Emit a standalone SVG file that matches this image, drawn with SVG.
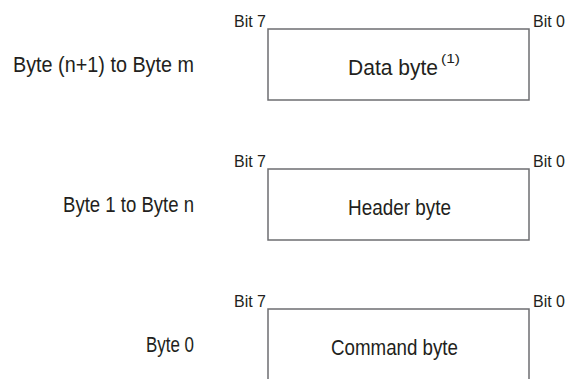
<svg xmlns="http://www.w3.org/2000/svg" width="569" height="379" viewBox="0 0 569 379">
<style>
text{font-family:"Liberation Sans",Arial,sans-serif;fill:#231f20}
.lbl{font-size:22px}
.bit{font-size:17px}
.sup{font-size:13px}
.box{fill:none;stroke:#6d6e71;stroke-width:1.5}
</style>
<rect width="569" height="379" fill="#fff"/>
<g id="row-data">
<text class="lbl" x="13" y="72" textLength="181" lengthAdjust="spacingAndGlyphs">Byte (n+1) to Byte m</text>
<text class="bit" x="234" y="27" textLength="32" lengthAdjust="spacingAndGlyphs">Bit 7</text>
<text class="bit" x="533" y="27" textLength="32" lengthAdjust="spacingAndGlyphs">Bit 0</text>
<rect class="box" x="268" y="29" width="261" height="71"/>
<text class="lbl" x="348" y="75" textLength="90" lengthAdjust="spacingAndGlyphs">Data byte</text>
<text class="sup" x="441" y="63" textLength="19" lengthAdjust="spacingAndGlyphs">(1)</text>
</g>
<g id="row-header">
<text class="lbl" x="63" y="212" textLength="131" lengthAdjust="spacingAndGlyphs">Byte 1 to Byte n</text>
<text class="bit" x="234" y="167" textLength="32" lengthAdjust="spacingAndGlyphs">Bit 7</text>
<text class="bit" x="533" y="167" textLength="32" lengthAdjust="spacingAndGlyphs">Bit 0</text>
<rect class="box" x="268" y="169" width="261" height="71"/>
<text class="lbl" x="348" y="215" textLength="103" lengthAdjust="spacingAndGlyphs">Header byte</text>
</g>
<g id="row-command">
<text class="lbl" x="146" y="352" textLength="48" lengthAdjust="spacingAndGlyphs">Byte 0</text>
<text class="bit" x="234" y="307" textLength="32" lengthAdjust="spacingAndGlyphs">Bit 7</text>
<text class="bit" x="533" y="307" textLength="32" lengthAdjust="spacingAndGlyphs">Bit 0</text>
<path class="box" d="M268 380V309H529V380"/>
<text class="lbl" x="331" y="355" textLength="127" lengthAdjust="spacingAndGlyphs">Command byte</text>
</g>
<g id="connectors"/>
</svg>
